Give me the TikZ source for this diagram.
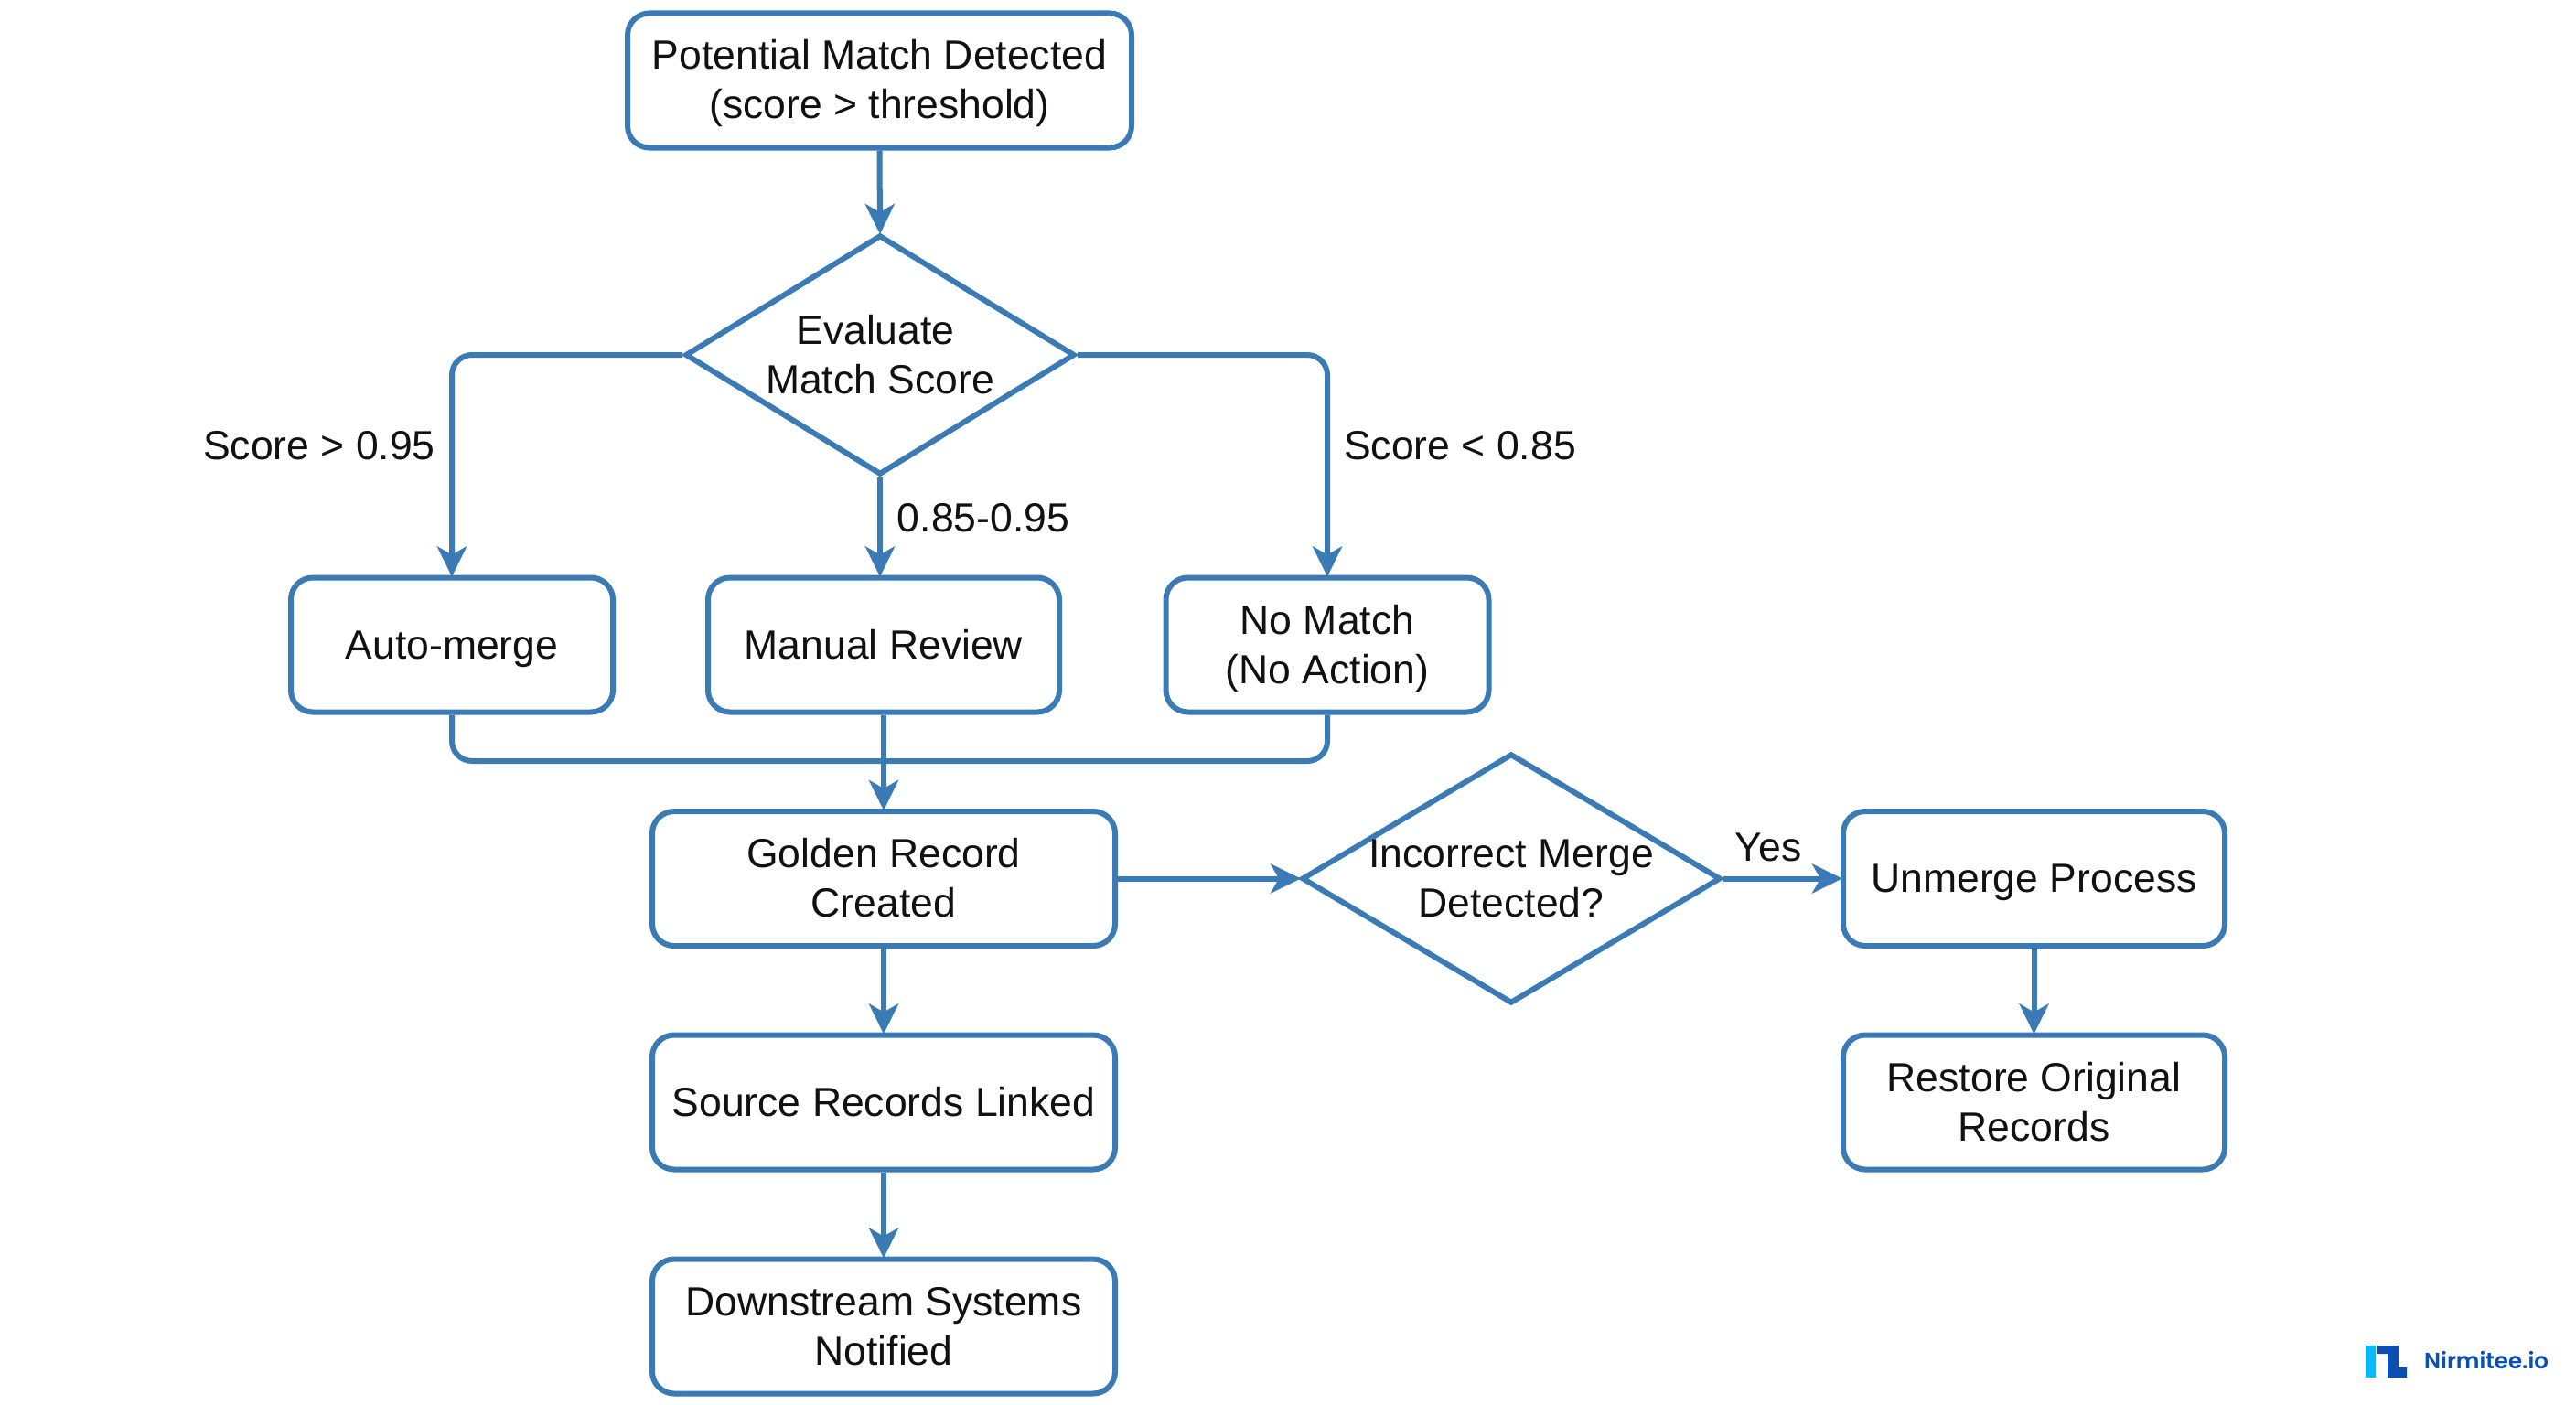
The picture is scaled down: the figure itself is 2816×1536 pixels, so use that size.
\documentclass[tikz,border=0pt]{standalone}
\usepackage{fontspec}
\setmainfont{Liberation Sans}
\newfontfamily\logofont{Poppins SemiBold}
\usetikzlibrary{shapes.geometric,arrows.meta,calc}
\definecolor{flowblue}{HTML}{3A7AB5}
\definecolor{inktext}{HTML}{111111}
\definecolor{logodark}{HTML}{0B4FB3}
\definecolor{logocyan}{HTML}{0ABAFF}
\newcommand{\tl}{\rule[-12pt]{0pt}{54pt}}
\tikzset{
  flowbox/.style={draw=flowblue,line width=6pt,rounded corners=24pt,fill=white,inner sep=0pt,
    minimum height=147pt,align=center,text=inktext,font=\fontsize{44.5}{54}\selectfont},
  flowdiamond/.style={draw=flowblue,line width=6pt,diamond,inner sep=0pt,fill=white},
  difftext/.style={align=center,text=inktext,font=\fontsize{44.5}{54}\selectfont,inner sep=0pt},
  edgetext/.style={text=inktext,font=\fontsize{44.5}{54}\selectfont,inner sep=0pt},
  flowline/.style={draw=flowblue,line width=6pt,rounded corners=22pt},
  flowarrow/.style={flowline,-{Stealth[length=33pt,width=32pt,inset=9pt]},shorten >=-2pt},
}
\begin{document}
\begin{tikzpicture}[x=1pt,y=-1pt]
\useasboundingbox[fill=white] (0,0) rectangle (2816,1536);
\node[flowbox,minimum width=551pt] (start) at (961.5,88) {\tl Potential Match Detected\\\tl (score > threshold)};
\node[flowdiamond,minimum width=426pt,minimum height=262pt,aspect=1.626] (eval) at (962,388) {};
\node[difftext] (evaltext) at (eval.center) {\tl Evaluate\hspace*{10pt}\\\tl Match Score};
\node[flowbox,minimum width=352pt] (auto) at (494,705) {\tl Auto-merge};
\node[flowbox,minimum width=384pt] (manual) at (966,705) {\tl Manual Review};
\node[flowbox,minimum width=353pt] (nomatch) at (1451,705) {\tl No Match\\\tl (No Action)};
\node[flowbox,minimum width=506pt] (golden) at (966,960.5) {\tl Golden Record\\\tl Created};
\node[flowbox,minimum width=506pt] (source) at (966,1205) {\tl Source Records Linked};
\node[flowbox,minimum width=506pt] (down) at (966,1450) {\tl Downstream Systems\\\tl Notified};
\node[flowdiamond,minimum width=458pt,minimum height=273pt,aspect=1.678] (incorrect) at (1652,960.5) {};
\node[difftext] (incorrecttext) at (incorrect.center) {\tl Incorrect Merge\\\tl Detected?};
\node[flowbox,minimum width=417pt] (unmerge) at (2223.5,960.5) {\tl Unmerge Process};
\node[flowbox,minimum width=417pt] (restore) at (2223.5,1205) {\tl Restore Original\\\tl Records};
\coordinate (merge) at (966,832);
\draw[flowarrow] (start.south) -- (eval.north);
\draw[flowarrow] (eval.west) -| (auto.north);
\draw[flowarrow] (eval.south) -- (eval.south |- manual.north);
\draw[flowarrow] (eval.east) -| (nomatch.north);
\draw[flowline] (auto.south) |- (merge) -| (nomatch.south);
\draw[flowarrow] (manual.south) -- (golden.north);
\draw[flowarrow] (golden.east) -- (incorrect.west);
\draw[flowarrow] (incorrect.east) -- (unmerge.west);
\draw[flowarrow] (unmerge.south) -- (restore.north);
\draw[flowarrow] (golden.south) -- (source.north);
\draw[flowarrow] (source.south) -- (down.north);
\node[edgetext] (lhigh) at (349,487) {Score > 0.95};
\node[edgetext] (llow) at (1596,487) {Score < 0.85};
\node[edgetext] (lmid) at (1075,566) {0.85-0.95};
\node[edgetext] (lyes) at (1933,926) {Yes};
\fill[logocyan] (2586,1471) rectangle (2597,1506);
\fill[logodark] (2599,1471) -- (2622,1471) -- (2622,1495) -- (2631,1495) -- (2631,1506) -- (2610,1506) -- (2610,1480) -- (2599,1480) -- cycle;
\node[text=logodark,inner sep=0pt,anchor=west,font=\logofont\fontsize{24.5}{28}\selectfont] (logo) at (2650,1487) {Nirmitee.io};
\end{tikzpicture}
\end{document}
